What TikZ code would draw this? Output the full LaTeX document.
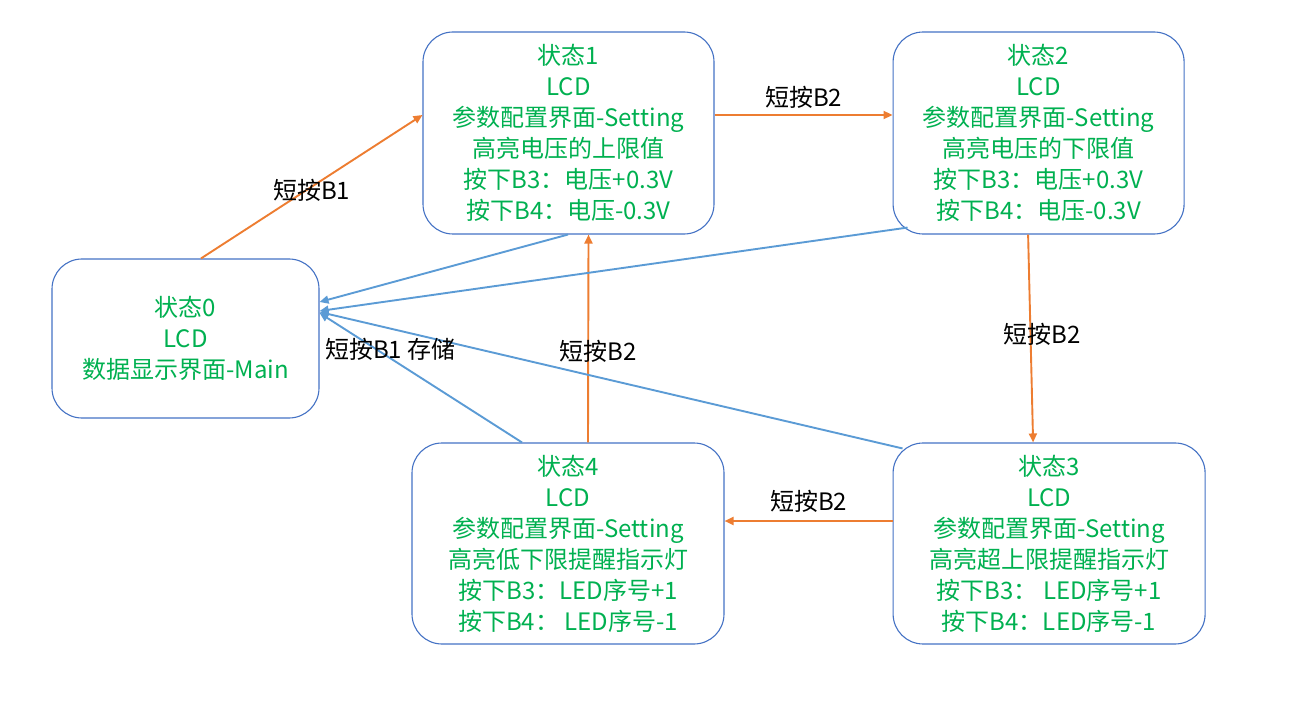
\documentclass[tikz,border=0pt]{standalone}
\usepackage{fontspec}
\setmainfont{Noto Sans CJK SC}
\usetikzlibrary{arrows.meta,positioning}
\definecolor{boxblue}{HTML}{4472C4}
\definecolor{stategreen}{HTML}{00B050}
\definecolor{keyorange}{HTML}{ED7D31}
\definecolor{retblue}{HTML}{5B9BD5}

\begin{document}
\begin{tikzpicture}[
  x=1pt, y=-1pt,
  font=\fontsize{24}{31}\selectfont,
  node distance=209pt and 178pt,
  state/.style={draw=boxblue, line width=1.1pt, rounded corners=30pt, text=stategreen, align=center, inner sep=0pt, minimum width=291pt, minimum height=202pt},
  wide/.style={minimum width=312pt, minimum height=201pt},
  fwd/.style={-{Triangle[length=9pt, width=8pt]}, draw=keyorange, line width=1.9pt},
  back/.style={-{Triangle[length=9pt, width=8pt]}, draw=retblue, line width=1.9pt},
  note/.style={text=black, inner sep=2pt}
]
\useasboundingbox (0,0) rectangle (1304,714);
\node[state, minimum width=267pt, minimum height=159pt] (s0) at (185.5,338.5) {状态0\\LCD\\数据显示界面-Main};
\node[state] (s1) at (568.5,133) {状态1\\LCD\\参数配置界面-Setting\\高亮电压的上限值\\按下B3：电压+0.3V\\按下B4：电压-0.3V};
\node[state, right=of s1] (s2) {状态2\\LCD\\参数配置界面-Setting\\高亮电压的下限值\\按下B3：电压+0.3V\\按下B4：电压-0.3V};
\node[state, wide] (s4) at (568,543.5) {状态4\\LCD\\参数配置界面-Setting\\高亮低下限提醒指示灯\\按下B3：LED序号+1\\按下B4：\ LED序号-1};
\node[state, wide, right=168pt of s4] (s3) {状态3\\LCD\\参数配置界面-Setting\\高亮超上限提醒指示灯\\按下B3：\ LED序号+1\\按下B4：LED序号-1};

% short presses, orange
\draw[fwd] ([xshift=15.5pt]s0.north) -- node[note, pos=0.5, yshift=-4pt] (k1) {短按B1} ([yshift=18pt]s1.west);
\draw[fwd] ([yshift=18pt]s1.east) -- node[note, above=4pt] (k2) {短按B2} ([yshift=18pt]s2.west);
\draw[fwd] ([xshift=-10.5pt]s2.south) -- node[note, pos=0.48, xshift=12pt] (k3) {短按B2} ([xshift=-16pt]s3.north);
\draw[fwd] ([yshift=22.5pt]s3.west) -- node[note, above=6pt] (k4) {短按B2} ([yshift=22.5pt]s4.east);
\draw[fwd] ([xshift=20pt]s4.north) -- node[note, pos=0.44, xshift=10pt] (k5) {短按B2} ([xshift=20pt]s1.south);

% back to main, blue
\draw[back] ([xshift=-0.5pt]s1.south) -- ([yshift=36.5pt]s0.east);
\draw[back] ([xshift=15pt, yshift=7pt]s2.south west) -- ([yshift=27.5pt]s0.east);
\draw[back] ([xshift=10pt, yshift=-6pt]s3.north west) -- ([yshift=26.5pt]s0.east);
\draw[back] ([xshift=-46pt]s4.north) -- node[note, pos=0.65, yshift=9pt] (save) {短按B1 存储} ([yshift=25.5pt]s0.east);
\end{tikzpicture}
\end{document}
